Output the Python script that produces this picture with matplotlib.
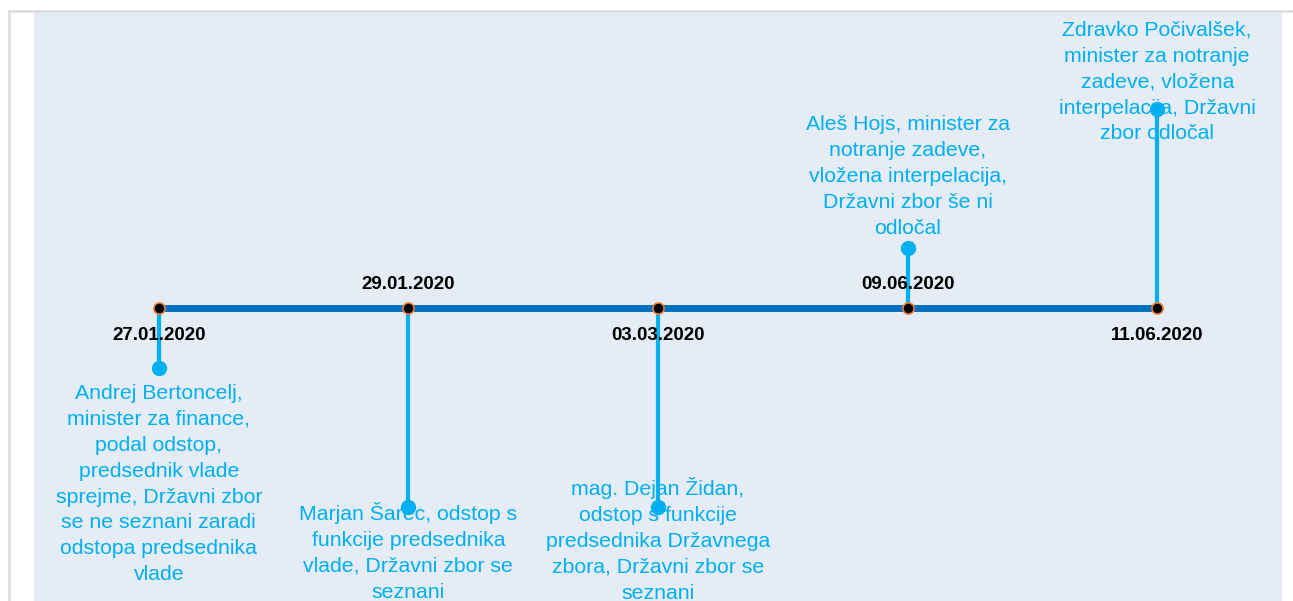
import matplotlib

matplotlib.use("Agg")
import matplotlib.pyplot as plt  # noqa: E402
from matplotlib.patches import Rectangle  # noqa: E402

plt.rcParams["font.family"] = ["Liberation Sans", "DejaVu Sans"]

# events on the timeline (evenly spaced, in order)
dates = ["27.01.2020", "29.01.2020", "03.03.2020", "09.06.2020", "11.06.2020"]
events = [
    "Andrej Bertoncelj,\nminister za finance,\npodal odstop,\npredsednik vlade\n"
    "sprejme, Državni zbor\nse ne seznani zaradi\nodstopa predsednika\nvlade",
    "Marjan Šarec, odstop s\nfunkcije predsednika\nvlade, Državni zbor se\nseznani",
    "mag. Dejan Židan,\nodstop s funkcije\npredsednika Državnega\nzbora, Državni zbor se\nseznani",
    "Aleš Hojs, minister za\nnotranje zadeve,\nvložena interpelacija,\nDržavni zbor še ni\nodločal",
    "Zdravko Počivalšek,\nminister za notranje\nzadeve, vložena\ninterpelacija, Državni\nzbor odločal",
]
stem_height = [-0.6, -2.0, -2.0, 0.6, 2.0]

# layout: where the text blocks sit and which side the date goes
label_y = [-1.77, -2.45, -2.33, 1.32, 2.27]
date_above = [False, True, False, True, False]

LINE = "#0070C0"
STEM = "#00B0F0"
BG = "#E5ECF6"

fig = plt.figure(figsize=(12.93, 6.01), dpi=100)
fig.add_artist(Rectangle((9 / 1293, -0.1), 1.2, 1 - 11 / 601 + 0.1,
                         transform=fig.transFigure, fill=False,
                         edgecolor="#DCDCDC", linewidth=1.8))

ax = fig.add_axes([34 / 1293, 0.0, (1282 - 34) / 1293, 1 - 12 / 601])
ax.set_facecolor(BG)
ax.set_xlim(-0.5, 4.5)
ax.set_ylim(-2.945, 2.975)
for s in ax.spines.values():
    s.set_visible(False)
ax.set_xticks([])
ax.set_yticks([])

xs = list(range(len(dates)))

for x, h in zip(xs, stem_height):
    ax.plot([x, x], [0, h], color=STEM, linewidth=3, zorder=3)
    ax.plot([x], [h], "o", color=STEM, markersize=10, zorder=4)

ax.plot(xs, [0] * len(xs), color=LINE, linewidth=5, zorder=2)
ax.plot(xs, [0] * len(xs), "o", markerfacecolor="black",
        markeredgecolor="#ED7D31", markeredgewidth=1.2, markersize=8, zorder=5)

for x, d, up in zip(xs, dates, date_above):
    ax.annotate(d, (x, 0), xytext=(0, 17 if up else -20),
                textcoords="offset points", ha="center", va="center",
                fontsize=13.5, fontweight="bold", color="black", zorder=6)

for x, txt, y in zip(xs, events, label_y):
    ax.text(x, y, txt, ha="center", va="center", fontsize=15.3,
            color=STEM, linespacing=1.46, zorder=1)

fig.savefig("out.png", dpi=100)
